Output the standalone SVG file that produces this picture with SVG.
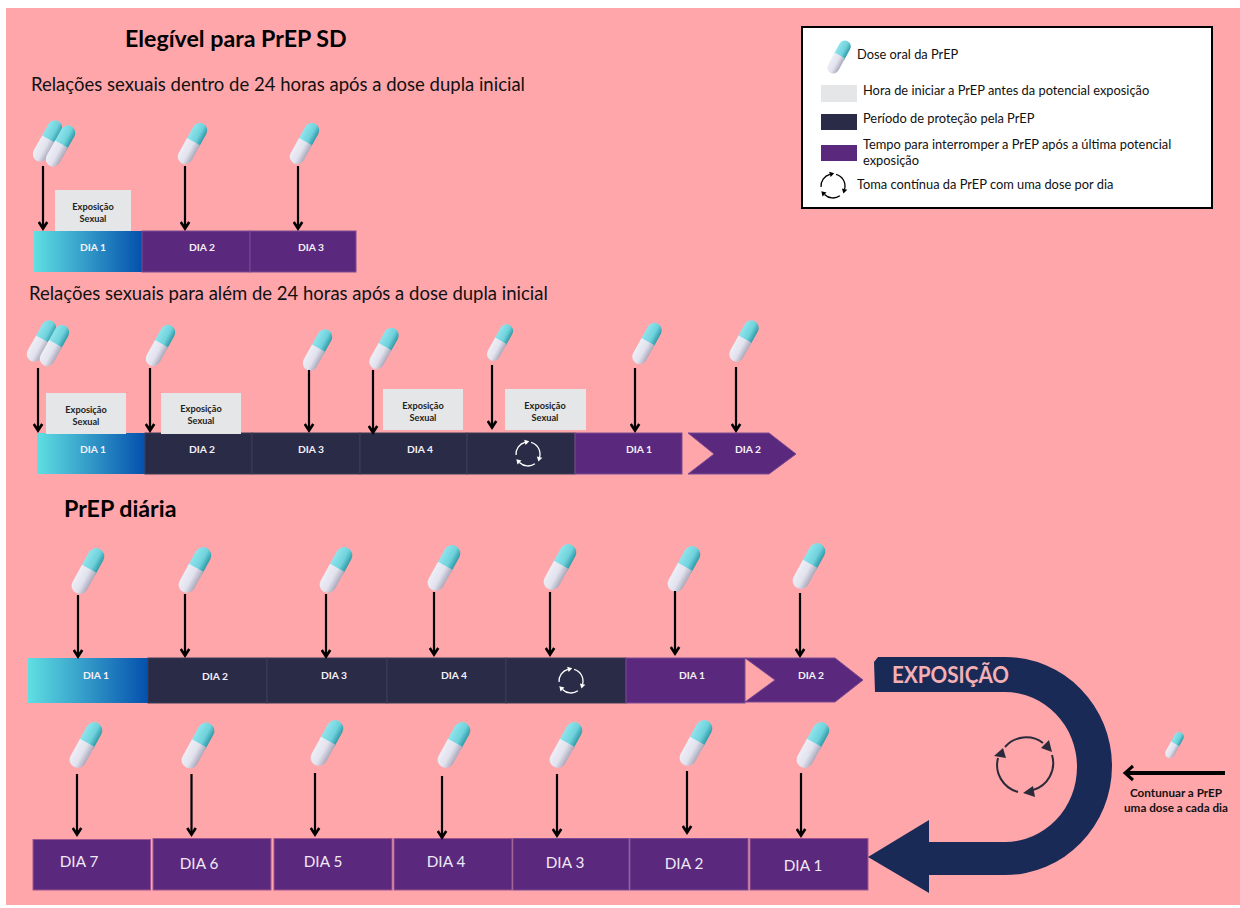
<svg xmlns="http://www.w3.org/2000/svg" width="1240" height="908" viewBox="0 0 1240 908">
<style>
text{font-family:Lato,"Liberation Sans",sans-serif}
.h{font-size:23.2px;font-weight:700;fill:#000}
.s{font-size:18.5px;fill:#111}
.d{font-size:10.3px;font-weight:700;fill:#f4f0f8;text-anchor:middle}
.e{font-size:9.2px;font-weight:700;fill:#222;text-anchor:middle}
.l{font-size:12.85px;fill:#111}
.w{font-size:15.3px;fill:#f0e8f6;text-anchor:middle}
.k{font-size:11.7px;font-weight:700;fill:#111;text-anchor:middle}
.x{fill:#e5e6e8}
.p{fill:#5a287c;stroke:#7a4a92;stroke-width:1}
.q{fill:#5a287c;stroke:#a0548f;stroke-width:1}
.n{fill:#2a2b47;stroke:#3f3c58;stroke-width:1}
.a{stroke:#000;stroke-width:2.2;fill:none;marker-end:url(#ah)}
</style>
<defs>
<marker id="ah" viewBox="0 0 10 10" refX="8" refY="5" markerWidth="4.6" markerHeight="5" orient="auto"><path d="M1 0.8L7.5 5L1 9.2" fill="none" stroke="#000" stroke-width="2.6"/></marker>
<linearGradient id="g1" x1="0" x2="1" y1="0" y2="0"><stop offset="0" stop-color="#5fdfe2"/><stop offset="1" stop-color="#0450ad"/></linearGradient>
<linearGradient id="gc" x1="0" x2="1" y1="0" y2="0"><stop offset="0" stop-color="#8fe4ec"/><stop offset="0.6" stop-color="#6fd2dc"/><stop offset="1" stop-color="#2f9aa8"/></linearGradient>
<linearGradient id="gw" x1="0" x2="1" y1="0" y2="0"><stop offset="0" stop-color="#eeeef6"/><stop offset="0.55" stop-color="#e2e2ee"/><stop offset="1" stop-color="#a9a9bb"/></linearGradient>
<g id="pill" transform="rotate(29)">
<path d="M-8.25 0V-16.75A8.25 8.25 0 0 1 8.25 -16.75V0Z" fill="url(#gc)"/>
<path d="M-8.25 -2.5H8.25V16.75A8.25 8.25 0 0 1 -8.25 16.75Z" fill="url(#gw)"/>
</g>
<g id="cyc" fill="none">
<path stroke="currentColor" stroke-width="1.3" d="M-11.95 1.05A12 12 0 0 1 -3.11 -11.59M3.11 -11.59A12 12 0 0 1 11.59 3.11M6.88 9.83A12 12 0 0 1 -8.49 8.49"/>
<path fill="currentColor" d="M1.24 -12.76L-3.84 -14.3L-2.38 -8.89ZM10.42 7.46L14.29 3.83L8.89 2.39ZM-11.67 5.31L-10.47 10.47L-6.51 6.51Z"/>
</g>
</defs>
<rect width="1240" height="908" fill="#fff"/>
<rect x="6" y="8" width="1234" height="897" fill="#ffa6ab"/>

<g id="titles">
<text class="h" x="125" y="47">Elegível para PrEP SD</text>
<text class="s" x="31" y="91">Relações sexuais dentro de 24 horas após a dose dupla inicial</text>
<text class="s" x="29" y="300">Relações sexuais para além de 24 horas após a dose dupla inicial</text>
<text class="h" x="64" y="517">PrEP diária</text>
</g>

<g id="legend">
<rect x="802" y="27" width="410" height="181" fill="#fff" stroke="#000" stroke-width="2"/>
<use href="#pill" transform="translate(839,57) scale(.72)"/>
<text class="l" x="857" y="59">Dose oral da PrEP</text>
<rect x="821" y="85" width="36" height="17" fill="#e5e6e8"/>
<text class="l" x="863" y="95">Hora de iniciar a PrEP antes da potencial exposição</text>
<rect x="821" y="114" width="36" height="16" fill="#2a2b47"/>
<text class="l" x="863" y="123">Período de proteção pela PrEP</text>
<rect x="821" y="145" width="36" height="16" fill="#5a287c"/>
<text class="l" x="863" y="149">Tempo para interromper a PrEP após a última potencial</text>
<text class="l" x="863" y="165">exposição</text>
<use href="#cyc" transform="translate(833,186)" color="#000"/>
<text class="l" x="857" y="189">Toma contínua da PrEP com uma dose por dia</text>
</g>

<g id="row1">
<rect x="34" y="231" width="108" height="41" fill="url(#g1)"/>
<rect class="p" x="142" y="231" width="108" height="41"/>
<rect class="p" x="250" y="231" width="106" height="41"/>
<rect class="x" x="55" y="190" width="76" height="41"/>
<text class="e" x="93" y="210">Exposição</text><text class="e" x="93" y="222">Sexual</text>
<text class="d" x="93" y="251">DIA 1</text><text class="d" x="202" y="251">DIA 2</text><text class="d" x="311" y="251">DIA 3</text>
<use href="#pill" transform="translate(47.5,141) scale(.9)"/><use href="#pill" transform="translate(60.5,146) scale(.9)"/>
<use href="#pill" transform="translate(192.5,143.500) scale(.9)"/><use href="#pill" transform="translate(304.500,143.500) scale(.9)"/>
</g>

<g id="row2">
<rect x="37" y="433" width="108" height="41" fill="url(#g1)"/>
<rect class="n" x="145" y="433" width="107" height="41"/>
<rect class="n" x="252" y="433" width="108" height="41"/>
<rect class="n" x="360" y="433" width="107" height="41"/>
<rect class="n" x="467" y="433" width="108" height="41"/>
<rect class="p" x="575" y="433" width="107" height="41"/>
<path class="p" d="M688 433H769L796 454L769 474H688L714 454Z"/>
<rect class="x" x="46" y="393" width="80" height="41"/>
<rect class="x" x="161" y="393" width="80" height="41"/>
<rect class="x" x="383" y="389" width="80" height="41"/>
<rect class="x" x="505" y="389" width="81" height="41"/>
<text class="e" x="86" y="413">Exposição</text><text class="e" x="86" y="425">Sexual</text>
<text class="e" x="201" y="412">Exposição</text><text class="e" x="201" y="424">Sexual</text>
<text class="e" x="423" y="409">Exposição</text><text class="e" x="423" y="421">Sexual</text>
<text class="e" x="545" y="409">Exposição</text><text class="e" x="545" y="421">Sexual</text>
<text class="d" x="93" y="453">DIA 1</text><text class="d" x="202" y="453">DIA 2</text><text class="d" x="311" y="453">DIA 3</text><text class="d" x="420" y="453">DIA 4</text><text class="d" x="639" y="453">DIA 1</text><text class="d" x="748" y="453">DIA 2</text>
<use href="#cyc" transform="translate(528,454)" color="#fff"/>
<use href="#pill" transform="translate(41.5,341) scale(.9)"/><use href="#pill" transform="translate(54.5,345.5) scale(.9)"/>
<use href="#pill" transform="translate(160.5,345.5) scale(.9)"/><use href="#pill" transform="translate(317.5,350) scale(.9)"/>
<use href="#pill" transform="translate(384,348.5) scale(.9)"/><use href="#pill" transform="translate(500,342.5) scale(.8)"/>
<use href="#pill" transform="translate(647,343.5) scale(.9)"/><use href="#pill" transform="translate(744,341) scale(.9)"/>
</g>

<g id="row3">
<rect x="28" y="658" width="120" height="45" fill="url(#g1)"/>
<rect class="n" x="148" y="658" width="119" height="45"/>
<rect class="n" x="267" y="658" width="120" height="45"/>
<rect class="n" x="387" y="658" width="119" height="45"/>
<rect class="n" x="506" y="658" width="120" height="45"/>
<rect class="p" x="626" y="658" width="119" height="45"/>
<path class="p" d="M745 658H835L863 680L835 702H745L775 680Z"/>
<text class="d" x="96" y="679">DIA 1</text><text class="d" x="215" y="680">DIA 2</text><text class="d" x="334" y="679">DIA 3</text><text class="d" x="454" y="679">DIA 4</text><text class="d" x="692" y="679">DIA 1</text><text class="d" x="811" y="679">DIA 2</text>
<use href="#cyc" transform="translate(571,681)" color="#fff"/>
<use href="#pill" transform="translate(88,571)"/><use href="#pill" transform="translate(195,570)"/>
<use href="#pill" transform="translate(336,570)"/><use href="#pill" transform="translate(444,568)"/>
<use href="#pill" transform="translate(560,567)"/><use href="#pill" transform="translate(684,569)"/>
<use href="#pill" transform="translate(809,566)"/>
</g>

<g id="row4">
<rect class="q" x="33" y="839.5" width="117.5" height="50.5"/>
<rect class="q" x="153" y="838.5" width="118" height="51.5"/>
<rect class="q" x="274" y="838.5" width="118" height="51.5"/>
<rect class="q" x="394" y="838.5" width="118" height="51.5"/>
<rect class="p" x="513" y="838.5" width="116" height="51.5"/>
<rect class="p" x="630" y="838.5" width="118" height="51.5"/>
<rect class="q" x="750" y="838.5" width="118" height="51.5"/>
<text class="w" x="79" y="867">DIA 7</text><text class="w" x="199" y="869">DIA 6</text><text class="w" x="323" y="867">DIA 5</text><text class="w" x="446" y="867">DIA 4</text><text class="w" x="565" y="868">DIA 3</text><text class="w" x="684" y="869">DIA 2</text><text class="w" x="803" y="871">DIA 1</text>
<use href="#pill" transform="translate(86,745)"/><use href="#pill" transform="translate(198,745.5)"/>
<use href="#pill" transform="translate(327,743)"/><use href="#pill" transform="translate(454,745)"/>
<use href="#pill" transform="translate(566,745)"/><use href="#pill" transform="translate(696,743)"/>
<use href="#pill" transform="translate(813,745)"/>
</g>

<g id="exposure">
<path fill="#1a2a57" d="M878 657H1005A107 109 0 0 1 1005 875H929V893L868 857L929 820V842H1005A72 75 0 0 0 1005 692H875L874 662Z"/>
<text x="892" y="683" font-size="23" font-weight="700" fill="#f4b0b4" textLength="117" lengthAdjust="spacingAndGlyphs">EXPOSIÇÃO</text>
<path d="M1018 792A28 28 0 0 1 998 758M1005 747A28 28 0 0 1 1043 743M1052 755A28 28 0 0 1 1033 790" fill="none" stroke="#2a2b3a" stroke-width="2"/>
<path d="M1041 748L1049 740L1052 752ZM994 756L1003 748L1006 758ZM1023 793L1033 786L1035 797Z" fill="#2a2b3a"/>
</g>

<g id="continue">
<use href="#pill" transform="translate(1174.5,745) scale(.57)"/>
<text class="k" x="1176" y="797">Contunuar a PrEP</text>
<text class="k" x="1176" y="812">uma dose a cada dia</text>
</g>

<g id="connectors">
<path class="a" d="M43 166V229"/><path class="a" d="M185 166V229"/><path class="a" d="M298 166V229"/>
<path class="a" d="M38 368V431"/><path class="a" d="M150 368V431"/><path class="a" d="M309 370V431"/><path class="a" d="M373 370V433"/><path class="a" d="M492 365V428"/><path class="a" d="M635 368V431"/><path class="a" d="M736 367V431"/>
<path class="a" d="M78 595V657"/><path class="a" d="M185 594V656"/><path class="a" d="M326 594V657"/><path class="a" d="M434 592V655"/><path class="a" d="M550 592V655"/><path class="a" d="M675 591V654"/><path class="a" d="M800 593V656"/>
<path class="a" d="M77 774V835"/><path class="a" d="M191.5 774V835"/><path class="a" d="M315 773V835"/><path class="a" d="M442 776V838"/><path class="a" d="M557 774V836"/><path class="a" d="M687 771V833"/><path class="a" d="M801 773V836"/>
<path d="M1225 773H1127" stroke="#000" stroke-width="4" fill="none"/><path d="M1133 766L1125 773L1133 780" stroke="#000" stroke-width="3" fill="none"/>
</g>
</svg>
